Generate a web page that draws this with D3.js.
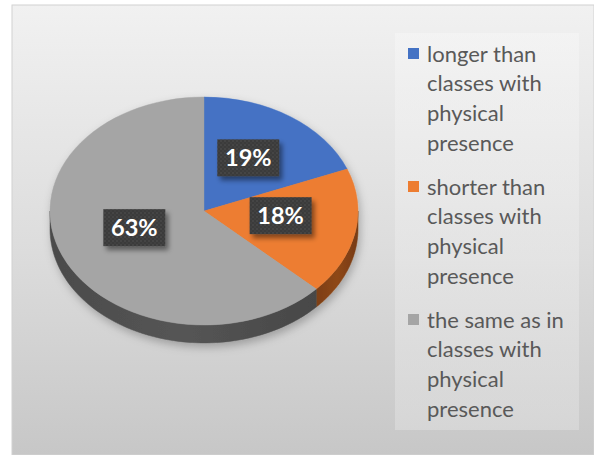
<!DOCTYPE html>
<html>
<head>
<meta charset="utf-8">
<script src="https://cdn.jsdelivr.net/npm/d3@7"></script>
<style>
  html, body { margin: 0; padding: 0; background: #ffffff; }
  svg { display: block; }
</style>
</head>
<body>
<svg id="chart" width="594" height="455"></svg>
<script>
// Answers: how long online classes feel compared with classes in person
const categories = [
  "longer than classes with physical presence",
  "shorter than classes with physical presence",
  "the same as in classes with physical presence"
];
const shares = [19, 18, 63];
const legendLines = [
  ["longer than", "classes with", "physical", "presence"],
  ["shorter than", "classes with", "physical", "presence"],
  ["the same as in", "classes with", "physical", "presence"]
];
const topColors = ["#4472c4", "#ed7d31", "#a5a5a5"];
const sideColors = ["#2a4a85", "#8e4716", "#555555"];

const svg = d3.select("#chart");
const defs = svg.append("defs");

// frame background
const bg = defs.append("linearGradient").attr("id", "bg")
  .attr("x1", 0).attr("y1", 0).attr("x2", 0).attr("y2", 1);
bg.append("stop").attr("offset", "0%").attr("stop-color", "#f1f1f1");
bg.append("stop").attr("offset", "55%").attr("stop-color", "#dcdcdc");
bg.append("stop").attr("offset", "100%").attr("stop-color", "#c7c7c7");

const lg = defs.append("linearGradient").attr("id", "legendBg")
  .attr("x1", 0).attr("y1", 0).attr("x2", 0).attr("y2", 1);
lg.append("stop").attr("offset", "0%").attr("stop-color", "#f6f6f6");
lg.append("stop").attr("offset", "100%").attr("stop-color", "#dedede");

// dotted texture for value labels
const pat = defs.append("pattern").attr("id", "dots")
  .attr("width", 4).attr("height", 4).attr("patternUnits", "userSpaceOnUse");
pat.append("rect").attr("width", 4).attr("height", 4).attr("fill", "#3b3b3b");
pat.append("circle").attr("cx", 1).attr("cy", 1).attr("r", 0.8).attr("fill", "#4e4e4e");
pat.append("circle").attr("cx", 3).attr("cy", 3).attr("r", 0.8).attr("fill", "#474747");

const sh = defs.append("filter").attr("id", "labelShadow")
  .attr("x", "-30%").attr("y", "-30%").attr("width", "170%").attr("height", "180%");
sh.append("feDropShadow").attr("dx", 3).attr("dy", 4).attr("stdDeviation", 2.5)
  .attr("flood-color", "#000").attr("flood-opacity", 0.45);

const pieShadow = defs.append("filter").attr("id", "pieShadow")
  .attr("x", "-20%").attr("y", "-20%").attr("width", "140%").attr("height", "150%");
pieShadow.append("feDropShadow").attr("dx", 2).attr("dy", 4).attr("stdDeviation", 4)
  .attr("flood-color", "#000").attr("flood-opacity", 0.25);

// side shading gradients
sideColors.forEach((c, i) => {
  const g = defs.append("linearGradient").attr("id", "side" + i)
    .attr("x1", 0).attr("y1", 0).attr("x2", 1).attr("y2", 0);
  g.append("stop").attr("offset", "0%").attr("stop-color", d3.color(c).darker(0.35));
  g.append("stop").attr("offset", "50%").attr("stop-color", c);
  g.append("stop").attr("offset", "100%").attr("stop-color", d3.color(c).darker(0.5));
});

svg.append("rect").attr("x", 12).attr("y", 5).attr("width", 582).attr("height", 450)
  .attr("fill", "url(#bg)").attr("stroke", "#d2d2d2").attr("stroke-width", 1);

// pie geometry (top face is an ellipse, tilted)
const cx = 204, cy = 211, rx = 154, ry = 114, depth = 18;
const pie = d3.pie().sort(null).value(d => d)(shares);

const ex = (a, f = 1) => cx + rx * f * Math.sin(a);
const ey = (a, f = 1) => cy - ry * f * Math.cos(a);

const pieG = svg.append("g").attr("filter", "url(#pieShadow)");

// side walls for the front half of the pie
pie.forEach((s, i) => {
  const a0 = Math.max(s.startAngle, Math.PI / 2);
  const a1 = Math.min(s.endAngle, 3 * Math.PI / 2);
  if (a1 <= a0) return;
  const steps = d3.range(0, 61).map(k => a0 + (a1 - a0) * k / 60);
  const top = steps.map(a => [ex(a), ey(a)]);
  const bottom = steps.slice().reverse().map(a => [ex(a), ey(a) + depth]);
  pieG.append("path")
    .attr("d", d3.line()(top.concat(bottom)) + "Z")
    .attr("fill", "url(#side" + i + ")")
    .attr("stroke", "url(#side" + i + ")").attr("stroke-width", 0.5);
});

// top faces drawn as circular arcs squashed vertically
const arc = d3.arc().innerRadius(0).outerRadius(rx);
pieG.append("g")
  .attr("transform", `translate(${cx},${cy}) scale(1,${ry / rx})`)
  .selectAll("path").data(pie).join("path")
  .attr("d", arc)
  .attr("fill", (d, i) => topColors[i])
  .attr("stroke", (d, i) => topColors[i]).attr("stroke-width", 0.5);

// value labels
const labelG = svg.append("g");
pie.forEach((s, i) => {
  const mid = (s.startAngle + s.endAngle) / 2;
  const x = ex(mid, 0.5) + 1, y = ey(mid, 0.5) - 6;
  const w = 62, h = 37;
  labelG.append("rect")
    .attr("x", x - w / 2).attr("y", y - h / 2).attr("width", w).attr("height", h)
    .attr("fill", "url(#dots)").attr("filter", "url(#labelShadow)");
  labelG.append("text")
    .attr("x", x).attr("y", y).attr("dy", "0.36em")
    .attr("text-anchor", "middle")
    .attr("font-family", "Lato, 'Open Sans', sans-serif")
    .attr("font-weight", "bold").attr("font-size", 23.5)
    .attr("fill", "#ffffff")
    .text(shares[i] + "%");
});

// legend
svg.append("rect").attr("x", 395).attr("y", 33).attr("width", 184).attr("height", 397)
  .attr("fill", "url(#legendBg)").attr("opacity", 0.6);

const lineH = 29.6;
const itemTop = [54, 187, 320];
categories.forEach((c, i) => {
  const g = svg.append("g");
  g.append("rect").attr("x", 408).attr("y", itemTop[i] - 6).attr("width", 11).attr("height", 11)
    .attr("fill", topColors[i]);
  const t = g.append("text")
    .attr("font-family", "Lato, 'Open Sans', sans-serif")
    .attr("font-size", 22).attr("fill", "#595959");
  legendLines[i].forEach((ln, k) => {
    t.append("tspan").attr("x", 427).attr("y", itemTop[i] + k * lineH).attr("dy", "0.35em").text(ln);
  });
});
</script>
</body>
</html>
